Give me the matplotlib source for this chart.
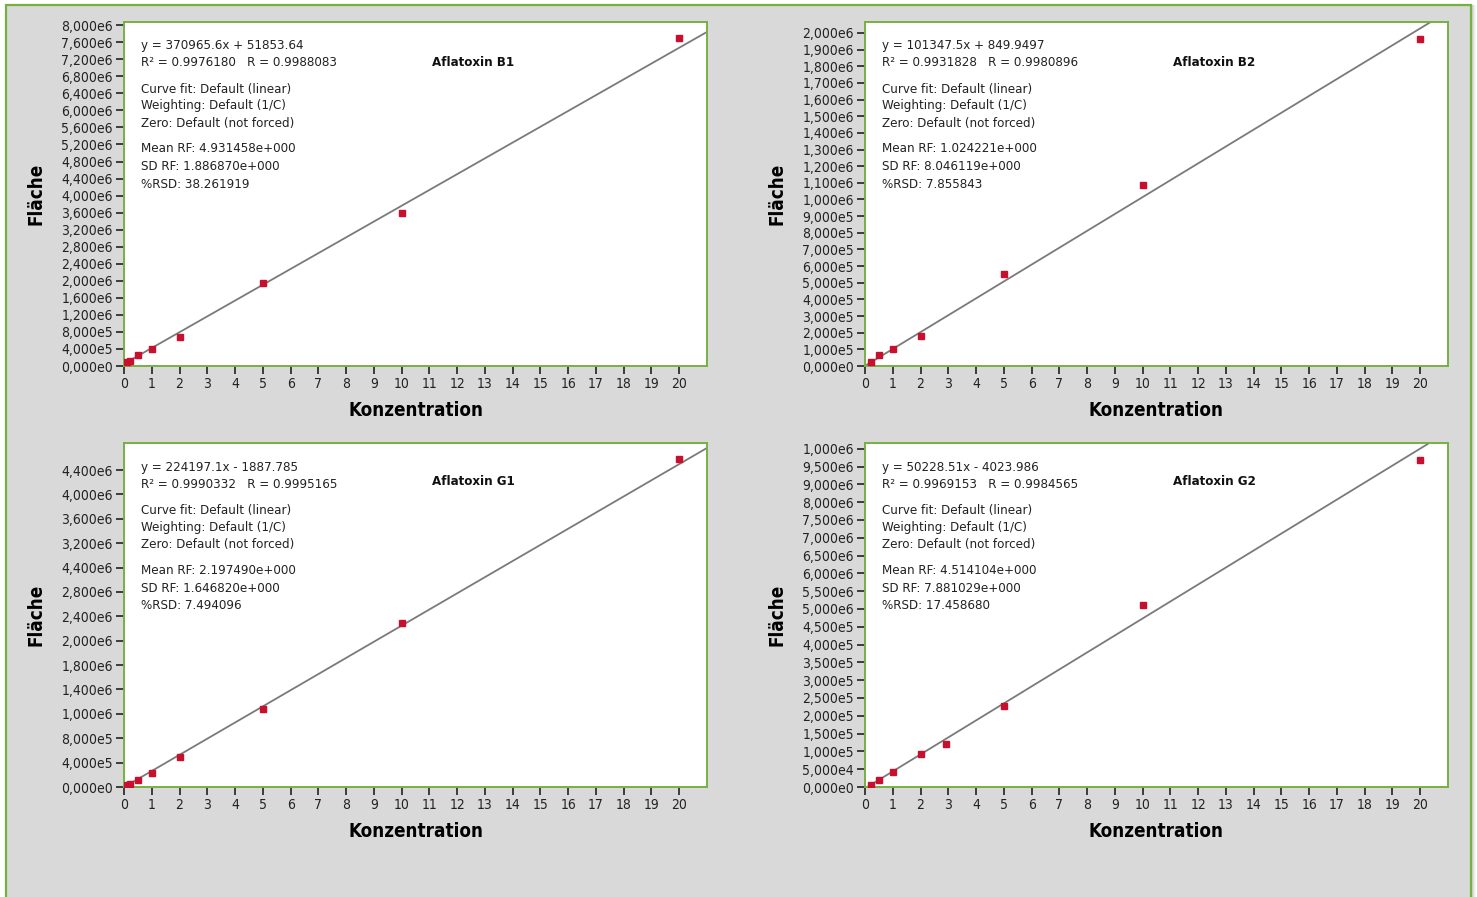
import numpy as np
import matplotlib
matplotlib.use("Agg")
import matplotlib.pyplot as plt
from matplotlib.patches import Rectangle

plt.rcParams['font.family'] = ['DejaVu Sans']
plt.rcParams['font.stretch'] = 'condensed'

# calibration data: concentration vs. peak area
conc_b1 = [0.1, 0.2, 0.5, 1, 2, 5, 10, 20]
area_b1 = [94000, 127000, 258000, 408000, 680000, 1950000, 3600000, 7690000]

conc_b2 = [0.2, 0.5, 1, 2, 5, 10, 20]
area_b2 = [24000, 64000, 102000, 182000, 550000, 1087000, 1965000]

conc_g1 = [0.1, 0.2, 0.5, 1, 2, 5, 10, 20]
area_g1 = [22000, 46000, 92000, 189000, 410000, 1086000, 2280000, 4550000]

conc_g2 = [0.2, 0.5, 1, 2, 2.92, 5, 10, 20]
area_g2 = [7100, 22000, 44000, 99000, 127000, 238000, 539000, 967000]

# fit results (slope, intercept)
fit_b1 = (370965.6, 51853.64)
fit_b2 = (101347.5, 849.9497)
fit_g1 = (224197.1, -1887.785)
fit_g2 = (50228.51, -4023.986)

info_b1 = ["y = 370965.6x + 51853.64", "R² = 0.9976180   R = 0.9988083",
           "Curve fit: Default (linear)", "Weighting: Default (1/C)", "Zero: Default (not forced)",
           "Mean RF: 4.931458e+000", "SD RF: 1.886870e+000", "%RSD: 38.261919"]
info_b2 = ["y = 101347.5x + 849.9497", "R² = 0.9931828   R = 0.9980896",
           "Curve fit: Default (linear)", "Weighting: Default (1/C)", "Zero: Default (not forced)",
           "Mean RF: 1.024221e+000", "SD RF: 8.046119e+000", "%RSD: 7.855843"]
info_g1 = ["y = 224197.1x - 1887.785", "R² = 0.9990332   R = 0.9995165",
           "Curve fit: Default (linear)", "Weighting: Default (1/C)", "Zero: Default (not forced)",
           "Mean RF: 2.197490e+000", "SD RF: 1.646820e+000", "%RSD: 7.494096"]
info_g2 = ["y = 50228.51x - 4023.986", "R² = 0.9969153   R = 0.9984565",
           "Curve fit: Default (linear)", "Weighting: Default (1/C)", "Zero: Default (not forced)",
           "Mean RF: 4.514104e+000", "SD RF: 7.881029e+000", "%RSD: 17.458680"]

ticks_b1 = ["0,000e0", "4,000e5", "8,000e5", "1,200e6", "1,600e6", "2,000e6", "2,400e6",
            "2,800e6", "3,200e6", "3,600e6", "4,000e6", "4,400e6", "4,800e6", "5,200e6",
            "5,600e6", "6,000e6", "6,400e6", "6,800e6", "7,200e6", "7,600e6", "8,000e6"]
ticks_b2 = ["0,000e0", "1,000e5", "2,000e5", "3,000e5", "4,000e5", "5,000e5", "6,000e5",
            "7,000e5", "8,000e5", "9,000e5", "1,000e6", "1,100e6", "1,200e6", "1,300e6",
            "1,400e6", "1,500e6", "1,600e6", "1,700e6", "1,800e6", "1,900e6", "2,000e6"]
ticks_g1 = ["0,000e0", "4,000e5", "8,000e5", "1,000e6", "1,400e6", "1,800e6", "2,000e6",
            "2,400e6", "2,800e6", "4,400e6", "3,200e6", "3,600e6", "4,000e6", "4,400e6"]
ticks_g2 = ["0,000e0", "5,000e4", "1,000e5", "1,500e5", "2,000e5", "2,500e5", "3,000e5",
            "3,500e5", "4,000e5", "4,500e5", "5,000e6", "5,500e6", "6,000e6", "6,500e6",
            "7,000e6", "7,500e6", "8,000e6", "9,000e6", "9,500e6", "1,000e6"]

GREEN = '#76b041'
RED = '#c8102e'

W, H = 1477, 897
fig = plt.figure(figsize=(W / 100, H / 100), dpi=100, facecolor='white')

# grey panel with green frame and a soft shadow on the right
for i, a in enumerate([0.18, 0.12, 0.07, 0.03]):
    fig.patches.append(Rectangle(((1472 + i) / W, -0.01), 1 / W, 1.0 - 5 / H + 0.01,
                                 transform=fig.transFigure, facecolor='black', alpha=a,
                                 edgecolor='none', zorder=-10))
fig.patches.append(Rectangle((6 / W, -0.01), 1465 / W, 1.0 - 5 / H + 0.01,
                             transform=fig.transFigure, facecolor='#d9d9d9',
                             edgecolor=GREEN, linewidth=1.6, zorder=-10))


def panel(left, top, conc, area, fit, info, name, ticks, ymax, ytick_top, title_y):
    ax = fig.add_axes([left / W, 1 - (top + 344) / H, 583 / W, 344 / H])
    ax.set_facecolor('white')
    xs = np.array([0, 21])
    ax.plot(xs, fit[0] * xs + fit[1], color='#7a7a7a', lw=1.3, zorder=2)
    ax.plot(conc, area, 's', color=RED, markersize=4.2, zorder=3)
    ax.set_xlim(0, 21)
    ax.set_ylim(0, ymax)
    ax.set_xticks(range(21))
    ax.set_yticks(np.linspace(0, ytick_top, len(ticks)))
    ax.set_yticklabels(ticks)
    ax.tick_params(direction='out', length=6, width=1.2, labelsize=10, pad=2,
                   color='#222222', labelcolor='#222222')
    for s in ax.spines.values():
        s.set_color(GREEN)
        s.set_linewidth(1.4)
    ax.set_xlabel('Konzentration', fontsize=13.5, fontweight='bold', labelpad=7)
    ax.set_ylabel('Fläche', fontsize=13.5, fontweight='bold', labelpad=11)
    ys = [46, 63, 89, 106, 123, 149, 167, 184]
    for y, t in zip(ys, info):
        ax.text(17 / 583, 1 - (y - 22) / 344, t, transform=ax.transAxes,
                fontsize=9.5, va='center', ha='left', color='#222222')
    ax.text(308 / 583, title_y, name, transform=ax.transAxes,
            fontsize=9.5, fontweight='bold', va='center', ha='left', color='#111111')
    return ax


panel(124, 22, conc_b1, area_b1, fit_b1, info_b1, 'Aflatoxin B1', ticks_b1,
      8.075e6, 8.0e6, 1 - 41 / 344)
panel(865, 22, conc_b2, area_b2, fit_b2, info_b2, 'Aflatoxin B2', ticks_b2,
      2.066e6, 2.0e6, 1 - 41 / 344)
panel(124, 443, conc_g1, area_g1, fit_g1, info_g1, 'Aflatoxin G1', ticks_g1,
      4.775e6, 4.4e6, 1 - 38 / 344)
panel(865, 443, conc_g2, area_g2, fit_g2, info_g2, 'Aflatoxin G2', ticks_g2,
      1.017e6, 1.0e6, 1 - 38 / 344)

fig.savefig('out.png', dpi=100, facecolor='white')
